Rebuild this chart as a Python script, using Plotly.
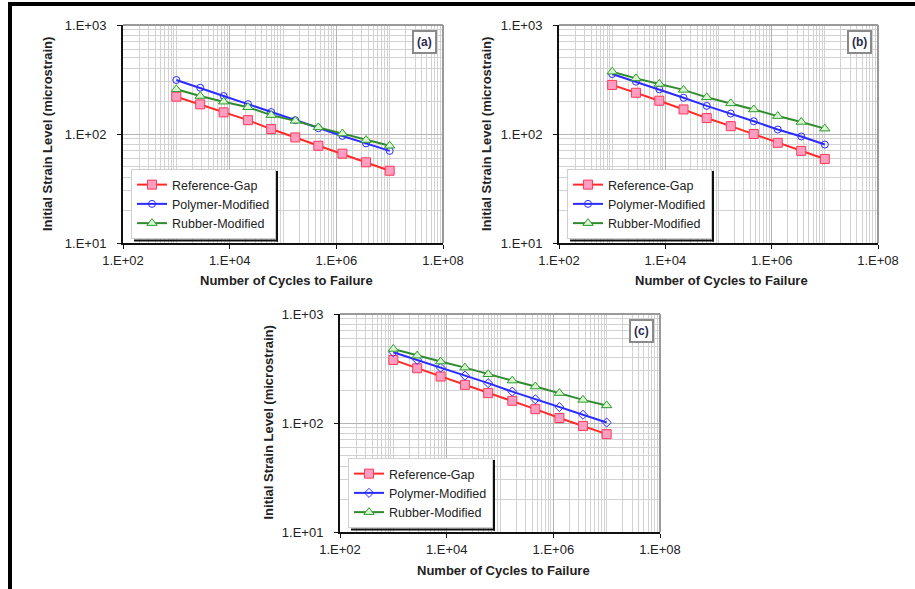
import plotly.graph_objects as go

# Fatigue data: number of cycles to failure vs initial strain level
cycles = [1.0e3, 2.8e3, 7.7e3, 2.2e4, 6.0e4, 1.7e5, 4.6e5, 1.3e6, 3.6e6, 1.0e7]

a_ref = [220, 187, 158, 134, 111, 93, 78, 66, 55, 46]
a_poly = [313, 266, 223, 188, 159, 134, 113, 96, 82, 70]
a_rub = [257, 223, 198, 176, 149, 132, 115, 101, 88, 78]

b_ref = [282, 239, 202, 168, 140, 118, 100, 83, 70, 59]
b_poly = [355, 302, 257, 215, 181, 154, 131, 110, 95, 80]
b_rub = [373, 324, 288, 254, 217, 191, 168, 146, 129, 112]

c_ref = [379, 318, 267, 224, 188, 160, 134, 111, 94, 79]
c_poly = [446, 379, 322, 272, 232, 194, 165, 140, 119, 101]
c_rub = [478, 415, 366, 322, 280, 245, 216, 188, 163, 145]

series_names = ["Reference-Gap", "Polymer-Modified", "Rubber-Modified"]
panel_labels = ["(a)", "(b)", "(c)"]
x_tick_vals = [1e2, 1e4, 1e6, 1e8]
x_tick_text = ["1.E+02", "1.E+04", "1.E+06", "1.E+08"]
y_tick_vals = [1e1, 1e2, 1e3]
y_tick_text = ["1.E+01", "1.E+02", "1.E+03"]

W, H = 915, 589
FONT = "Liberation Sans, Arial, sans-serif"
TXT = "#222222"

# panel placement in pixels: (left, right, top, bottom)
boxes = [(123, 443, 25, 243), (559, 878, 25, 243), (340, 660, 314, 532)]
ytitle_offset = [76, 73, 72.5]
panels = [(a_ref, a_poly, a_rub), (b_ref, b_poly, b_rub), (c_ref, c_poly, c_rub)]
poly_symbols = ["circle-open", "circle-open", "diamond-open"]

# legend box size in pixels (used for the drop shadow)
LEG_W, LEG_H = 145, 71


def px(x):
    return x / W


def py(y):
    return 1 - y / H


def minor_vals(lo, hi):
    vals = []
    for e in range(lo, hi):
        for m in range(2, 10):
            vals.append(m * 10 ** e)
    return vals


fig = go.Figure()
shapes = []
annotations = []

for k, (box, data) in enumerate(zip(boxes, panels)):
    sfx = "" if k == 0 else str(k + 1)
    xa, ya = "x" + sfx, "y" + sfx
    lg = "legend" if k == 0 else "legend" + str(k + 1)
    l, r, t, b = box
    ref, poly, rub = data

    fig.add_trace(go.Scatter(
        x=cycles, y=ref, mode="lines+markers", name=series_names[0],
        xaxis=xa, yaxis=ya, legend=lg,
        line=dict(color="#ff2a2a", width=2),
        marker=dict(symbol="square", size=9, color="#ff9ec0",
                    line=dict(color="#ff3a5a", width=1)),
    ))
    fig.add_trace(go.Scatter(
        x=cycles, y=poly, mode="lines+markers", name=series_names[1],
        xaxis=xa, yaxis=ya, legend=lg,
        line=dict(color="#2b2bff", width=2),
        marker=dict(symbol=poly_symbols[k], size=7,
                    line=dict(color="#2b2bff", width=1)),
    ))
    fig.add_trace(go.Scatter(
        x=cycles, y=rub, mode="lines+markers", name=series_names[2],
        xaxis=xa, yaxis=ya, legend=lg,
        line=dict(color="#2e8b2e", width=2),
        marker=dict(symbol="triangle-up", size=9, color="#d8f5d0",
                    line=dict(color="#2e9b2e", width=1)),
    ))

    common = dict(
        type="log", showgrid=True, gridcolor="#b4b4b4", gridwidth=1,
        showline=True, linecolor="#111111", linewidth=2,
        ticks="outside", ticklen=4, tickcolor="#111111", tickwidth=1,
        tickfont=dict(family=FONT, size=13, color=TXT),
        zeroline=False, fixedrange=True, automargin=False,
    )
    leg_left, leg_bottom = l + 8, b - 4
    fig.update_layout(**{
        "xaxis" + sfx: dict(
            common, domain=[px(l), px(r)], range=[2, 8], anchor=ya,
            tickvals=x_tick_vals, ticktext=x_tick_text, ticklabelstandoff=0,
            minor=dict(tickvals=minor_vals(2, 8) + [1e3, 1e5, 1e7],
                       showgrid=True, gridcolor="#d2d2d2", gridwidth=1,
                       ticks=""),
        ),
        "yaxis" + sfx: dict(
            common, domain=[py(b), py(t)], range=[1, 3], anchor=xa,
            tickvals=y_tick_vals, ticktext=y_tick_text, ticklabelstandoff=8,
            minor=dict(tickvals=minor_vals(1, 3), showgrid=True,
                       gridcolor="#d2d2d2", gridwidth=1, ticks=""),
        ),
        lg: dict(
            x=px(leg_left), y=py(leg_bottom), xanchor="left", yanchor="bottom",
            bgcolor="white", bordercolor="#cfcfcf", borderwidth=1,
            font=dict(family=FONT, size=12.5, color=TXT),
            itemwidth=30, tracegroupgap=0,
        ),
    })

    # gray frame on top/right of plot area
    shapes.append(dict(type="line", xref="paper", yref="paper",
                       x0=px(l), x1=px(r), y0=py(t), y1=py(t),
                       line=dict(color="#9a9a9a", width=2), layer="above"))
    shapes.append(dict(type="line", xref="paper", yref="paper",
                       x0=px(r), x1=px(r), y0=py(t), y1=py(b),
                       line=dict(color="#9a9a9a", width=2), layer="above"))
    # legend drop shadow
    sx, sy = leg_left + LEG_W + 1, leg_bottom + 1.5
    shapes.append(dict(type="line", xref="paper", yref="paper",
                       x0=px(sx), x1=px(sx), y0=py(leg_bottom - LEG_H + 3), y1=py(sy + 1),
                       line=dict(color="#111111", width=2), layer="above"))
    shapes.append(dict(type="line", xref="paper", yref="paper",
                       x0=px(leg_left + 3), x1=px(sx + 1), y0=py(sy), y1=py(sy),
                       line=dict(color="#111111", width=2), layer="above"))

    # panel tag
    annotations.append(dict(
        xref="paper", yref="paper", x=px(r - 19), y=py(t + 16.5),
        xanchor="center", yanchor="middle",
        text="<b>" + panel_labels[k] + "</b>", showarrow=False,
        font=dict(family=FONT, size=12, color="#2a2a50"),
        bgcolor="white", bordercolor="#8a8a8a", borderwidth=2, borderpad=3,
    ))
    # axis titles
    annotations.append(dict(
        xref="paper", yref="paper", x=px(l - ytitle_offset[k]), y=py((t + b) / 2),
        xanchor="center", yanchor="middle",
        text="<b>Initial Strain Level (microstrain)</b>", textangle=-90,
        showarrow=False, font=dict(family=FONT, size=13, color=TXT),
    ))
    annotations.append(dict(
        xref="paper", yref="paper", x=px((l + r) / 2 + 3), y=py(b + 38),
        xanchor="center", yanchor="middle",
        text="<b>Number of Cycles to Failure</b>",
        showarrow=False, font=dict(family=FONT, size=13, color=TXT),
    ))

# page frame: black bands along the top and left edges
shapes.append(dict(type="rect", xref="paper", yref="paper",
                   x0=px(8), x1=px(915), y0=py(6), y1=py(2),
                   fillcolor="black", line=dict(width=0), layer="above"))
shapes.append(dict(type="rect", xref="paper", yref="paper",
                   x0=px(8), x1=px(12), y0=py(589), y1=py(2),
                   fillcolor="black", line=dict(width=0), layer="above"))

fig.update_layout(
    template="none",
    width=W, height=H, margin=dict(l=0, r=0, t=0, b=0, autoexpand=False),
    paper_bgcolor="white", plot_bgcolor="white",
    shapes=shapes, annotations=annotations, showlegend=True,
)

fig.write_html("out.html")
